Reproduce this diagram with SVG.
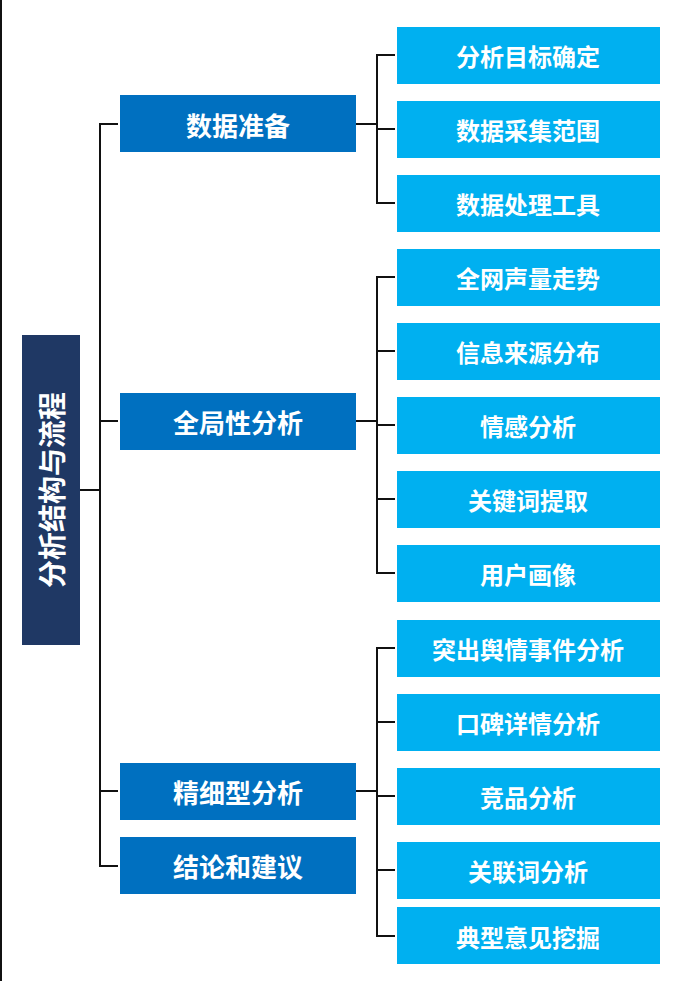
<svg xmlns="http://www.w3.org/2000/svg" width="695" height="981" viewBox="0 0 695 981">
<style>
.t{font-family:"Noto Sans CJK SC",sans-serif;font-weight:bold;fill:#fff;text-anchor:middle;dominant-baseline:central}
.m{fill:#0070c0}.r{fill:#00b0f0}
.c{fill:none;stroke:#111;stroke-width:2}
</style>
<rect width="695" height="981" fill="#fff"/>
<line x1="1" y1="0" x2="1" y2="981" stroke="#111" stroke-width="2"/>
<g id="connectors" class="c">
<path d="M80 490H100M118 124H100V866H118M100 421H118M100 791H118"/>
<path d="M356 124H377M395 55H377V203H395M377 129H395"/>
<path d="M356 421H377M395 277H377V573H395M377 351H395M377 425H395M377 499H395"/>
<path d="M356 791H377M395 648H377V936H395M377 722H395M377 796H395M377 870H395"/>
</g>
<g id="root"><rect x="22" y="335" width="58" height="310" fill="#1f3864"/><text class="t" font-size="28" transform="translate(51 490) rotate(-90)">分析结构与流程</text></g>
<g id="m1"><rect class="m" x="120" y="95" width="236" height="57"/><text class="t" font-size="26" x="238" y="124">数据准备</text></g>
<g id="m2"><rect class="m" x="120" y="393" width="236" height="57"/><text class="t" font-size="26" x="238" y="421">全局性分析</text></g>
<g id="m3"><rect class="m" x="120" y="763" width="236" height="57"/><text class="t" font-size="26" x="238" y="791">精细型分析</text></g>
<g id="m4"><rect class="m" x="120" y="837" width="236" height="57"/><text class="t" font-size="26" x="238" y="865">结论和建议</text></g>
<g id="r1"><rect class="r" x="397" y="27" width="263" height="57"/><text class="t" font-size="24" x="528" y="55">分析目标确定</text></g>
<g id="r2"><rect class="r" x="397" y="101" width="263" height="57"/><text class="t" font-size="24" x="528" y="129">数据采集范围</text></g>
<g id="r3"><rect class="r" x="397" y="175" width="263" height="57"/><text class="t" font-size="24" x="528" y="203">数据处理工具</text></g>
<g id="r4"><rect class="r" x="397" y="249" width="263" height="57"/><text class="t" font-size="24" x="528" y="277">全网声量走势</text></g>
<g id="r5"><rect class="r" x="397" y="323" width="263" height="57"/><text class="t" font-size="24" x="528" y="351">信息来源分布</text></g>
<g id="r6"><rect class="r" x="397" y="397" width="263" height="57"/><text class="t" font-size="24" x="528" y="425">情感分析</text></g>
<g id="r7"><rect class="r" x="397" y="471" width="263" height="57"/><text class="t" font-size="24" x="528" y="499">关键词提取</text></g>
<g id="r8"><rect class="r" x="397" y="545" width="263" height="57"/><text class="t" font-size="24" x="528" y="573">用户画像</text></g>
<g id="r9"><rect class="r" x="397" y="620" width="263" height="57"/><text class="t" font-size="24" x="528" y="648">突出舆情事件分析</text></g>
<g id="r10"><rect class="r" x="397" y="694" width="263" height="57"/><text class="t" font-size="24" x="528" y="722">口碑详情分析</text></g>
<g id="r11"><rect class="r" x="397" y="768" width="263" height="57"/><text class="t" font-size="24" x="528" y="796">竞品分析</text></g>
<g id="r12"><rect class="r" x="397" y="842" width="263" height="57"/><text class="t" font-size="24" x="528" y="870">关联词分析</text></g>
<g id="r13"><rect class="r" x="397" y="907" width="263" height="57"/><text class="t" font-size="24" x="528" y="936">典型意见挖掘</text></g>
</svg>
